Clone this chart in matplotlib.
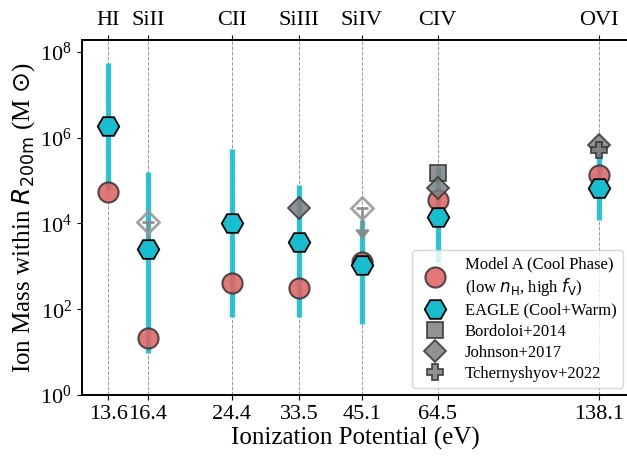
import matplotlib
matplotlib.use("Agg")
import matplotlib.pyplot as plt
import numpy as np
from matplotlib.ticker import NullLocator, FixedLocator
from matplotlib.lines import Line2D

plt.rcParams['font.family'] = ['Liberation Serif', 'DejaVu Serif']
plt.rcParams['mathtext.fontset'] = 'dejavusans'

# ---- data ----
ions = ["HI", "SiII", "CII", "SiIII", "SiIV", "CIV", "OVI"]
ip = [13.6, 16.4, 24.4, 33.5, 45.1, 64.5, 138.1]
ip_labels = ["13.6", "16.4", "24.4", "33.5", "45.1", "64.5", "138.1"]

modelA = [5.5e4, 21, 4.0e2, 3.07e2, 1.28e3, 3.5e4, 1.34e5]
eagle = [1.89e6, 2.49e3, 1.02e4, 3.74e3, 1.07e3, 1.43e4, 6.6e4]
eagle_lo = [6.0e4, 9.4, 67, 65, 45, 1.26e3, 1.2e4]
eagle_hi = [5.4e7, 1.6e5, 5.6e5, 7.9e4, 1.2e4, 2.1e5, 4.4e5]

bordoloi_ip = [64.5]
bordoloi = [1.52e5]

johnson_ip = [33.5, 64.5, 138.1]
johnson = [2.25e4, 6.6e4, 6.7e5]
johnson_ul_ip = [16.4, 45.1]
johnson_ul = [1.06e4, 2.25e4]

tcherny_ip = [138.1]
tcherny = [5.3e5]

# ---- figure ----
fig = plt.figure(figsize=(6.27, 4.57), dpi=100)
ax = fig.add_axes([81.7 / 627, 1 - 395 / 457, (630 - 81.7) / 627, (395 - 40) / 457])

red = '#E06060'
cyan = '#17BECF'
gray = '#7f7f7f'

for x in ip:
    ax.axvline(x, color='gray', ls='--', lw=0.7, alpha=0.8, zorder=0)

ax.vlines(ip, eagle_lo, eagle_hi, color=cyan, lw=3.8, alpha=0.9, zorder=1)
ax.plot(ip, modelA, 'o', ms=14.5, mfc=red, mec='#333333', mew=1.5, alpha=0.85,
        ls='none', zorder=2)

ul_err = [v * 2.0 / 3.0 for v in johnson_ul]
ax.errorbar(johnson_ul_ip, johnson_ul, yerr=ul_err, uplims=True, fmt='D',
            color='#888888', ms=11.5, mfc='none', mec='#999999', mew=2,
            ecolor='#888888', elinewidth=2, capsize=4, capthick=2, alpha=0.9,
            zorder=2.5)

ax.plot(ip, eagle, 'H', ms=15.5, mfc=cyan, mec='black', mew=1.3, ls='none', zorder=3)

ax.plot(bordoloi_ip, bordoloi, 's', ms=12, mfc=gray, mec='#333333', mew=1.3,
        alpha=0.85, ls='none', zorder=4)
ax.plot(johnson_ip, johnson, 'D', ms=11.5, mfc=gray, mec='#333333', mew=1.3,
        alpha=0.85, ls='none', zorder=5)
ax.plot(tcherny_ip, tcherny, 'P', ms=12, mfc=gray, mec='#333333', mew=1.3,
        alpha=0.85, ls='none', zorder=6)

ax.set_xscale('log')
ax.set_yscale('log')
ax.set_xlim(12, 160)
ax.set_ylim(1, 1.9e8)
ax.xaxis.set_major_locator(FixedLocator(ip))
ax.xaxis.set_minor_locator(NullLocator())
ax.set_xticklabels(ip_labels)
ax.set_yticks([1, 1e2, 1e4, 1e6, 1e8])
ax.yaxis.set_minor_locator(NullLocator())
ax.tick_params(labelsize=16)

ax.set_xlabel('Ionization Potential (eV)', fontsize=18, labelpad=2)
ax.set_ylabel(r'Ion Mass within $R_{\rm 200m}$ (M $\odot$)', fontsize=18, labelpad=2)

ax2 = ax.twiny()
ax2.set_xscale('log')
ax2.set_xlim(ax.get_xlim())
ax2.xaxis.set_major_locator(FixedLocator(ip))
ax2.xaxis.set_minor_locator(NullLocator())
ax2.set_xticklabels(ions)
ax2.tick_params(labelsize=16)

for a in (ax, ax2):
    for s in a.spines.values():
        s.set_linewidth(1.2)

handles = [
    Line2D([], [], marker='o', ls='none', ms=14.5, mfc=red, mec='#333333', mew=1.5, alpha=0.85),
    Line2D([], [], marker='H', ls='none', ms=15.5, mfc=cyan, mec='black', mew=1.3),
    Line2D([], [], marker='s', ls='none', ms=12, mfc=gray, mec='#333333', mew=1.3, alpha=0.85),
    Line2D([], [], marker='D', ls='none', ms=11.5, mfc=gray, mec='#333333', mew=1.3, alpha=0.85),
    Line2D([], [], marker='P', ls='none', ms=12, mfc=gray, mec='#333333', mew=1.3, alpha=0.85),
]
labels = [
    'Model A (Cool Phase)\n' + r'(low $n_{\rm H}$, high $f_{\rm V}$)',
    'EAGLE (Cool+Warm)',
    'Bordoloi+2014',
    'Johnson+2017',
    'Tchernyshyov+2022',
]
leg = ax.legend(handles, labels, loc='lower right', fontsize=12, labelspacing=0.3,
                borderaxespad=0.4)
leg.set_zorder(10)

fig.savefig('out.png', dpi=100)
